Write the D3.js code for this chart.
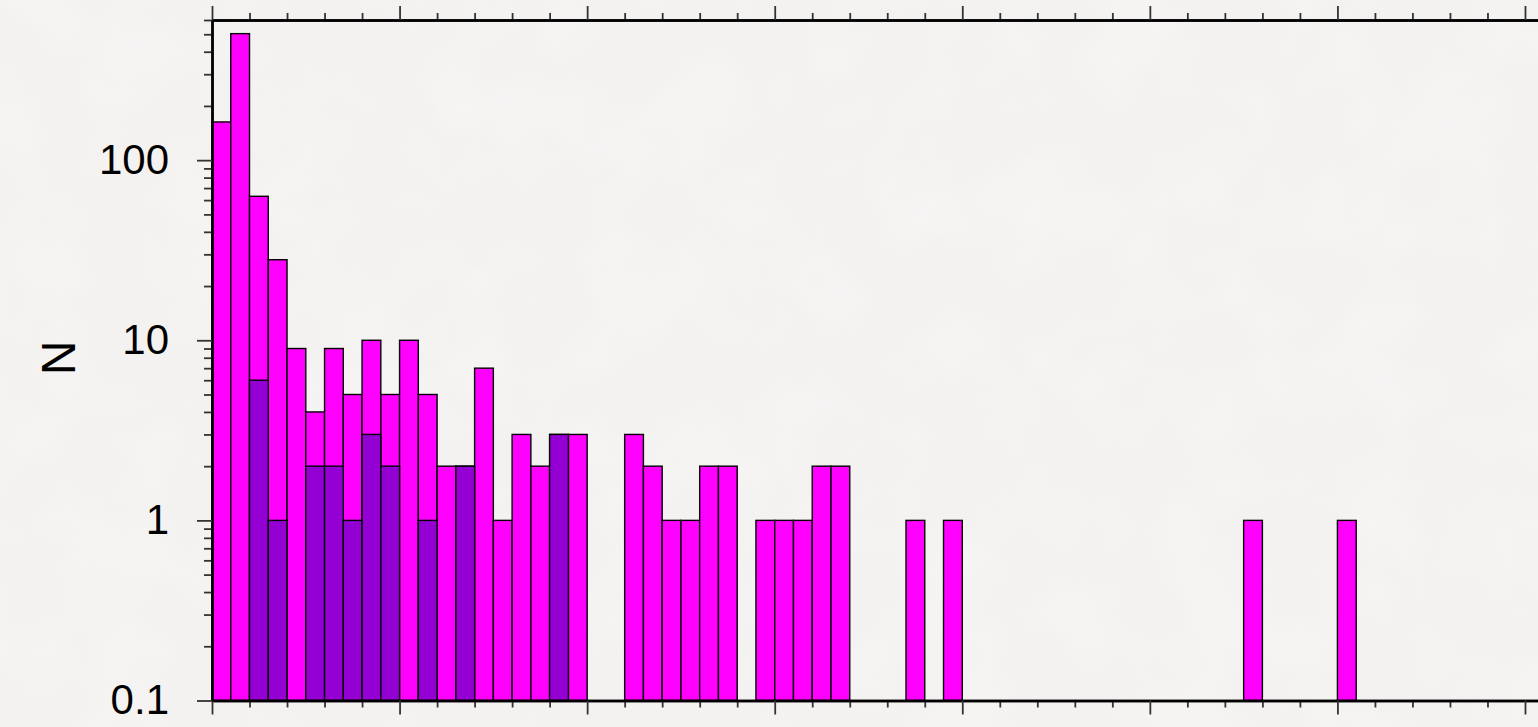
<!DOCTYPE html>
<html>
<head>
<meta charset="utf-8">
<script src="https://cdn.jsdelivr.net/npm/d3@7"></script>
<style>
  html, body { margin: 0; padding: 0; background: #f5f3f2; }
  svg { display: block; }
  text { font-family: "Liberation Sans", Arial, Helvetica, sans-serif; }
</style>
</head>
<body>
<svg id="chart" width="1538" height="727"></svg>
<script>
// Histogram counts per bin (bin index = position along the x axis)
const binIndex = [
  0, 1, 2, 3, 4, 5, 6, 7, 8, 9,
  10, 11, 12, 13, 14, 15, 16, 17, 18, 19,
  20, 21, 22, 23, 24, 25, 26, 27, 28, 29,
  30, 31, 32, 33, 34, 35, 36, 37, 38, 39,
  40, 41, 42, 43, 44, 45, 46, 47, 48, 49,
  50, 51, 52, 53, 54, 55, 56, 57, 58, 59, 60
];
// All objects
const totalCounts = [
  163, 504, 63, 28, 9, 4, 9, 5, 10, 5,
  10, 5, 2, 2, 7, 1, 3, 2, 3, 3,
  0, 0, 3, 2, 1, 1, 2, 2, 0, 1,
  1, 1, 2, 2, 0, 0, 0, 1, 0, 1,
  0, 0, 0, 0, 0, 0, 0, 0, 0, 0,
  0, 0, 0, 0, 0, 1, 0, 0, 0, 0, 1
];
// Sub-sample drawn on top
const subsetCounts = [
  0, 0, 6, 1, 0, 2, 2, 1, 3, 2,
  0, 1, 0, 2, 0, 0, 0, 0, 3, 0
];
// Axis ticks
const yMajorTicks = [0.1, 1, 10, 100];
const yTickLabels = ["0.1", "1", "10", "100"];
const yMinorTicks = [0.2,0.3,0.4,0.5,0.6,0.7,0.8,0.9,2,3,4,5,6,7,8,9,20,30,40,50,60,70,80,90,200,300,400,500,600];
const xMajorTicks = [0, 10, 20, 30, 40, 50, 60, 70, 80];
const xMinorTicks = [2,4,6,8,12,14,16,18,22,24,26,28,32,34,36,38,42,44,46,48,52,54,56,58,62,64,66,68,72,74,76,78];

const svg = d3.select("#chart");
const plotLeft = 212, plotTop = 20, plotBottom = 700.5;
const binPx = 18.757;

const x = d3.scaleLinear().domain([0, 80]).range([plotLeft, plotLeft + 80 * binPx]);
const y = d3.scaleLog().domain([0.1, 600]).range([plotBottom, plotTop]);

// subtle mottled paper background
const defs = svg.append("defs");
const f = defs.append("filter").attr("id", "mottle").attr("x", 0).attr("y", 0).attr("width", "100%").attr("height", "100%");
f.append("feTurbulence").attr("type", "fractalNoise").attr("baseFrequency", 0.012).attr("numOctaves", 3).attr("seed", 7);
f.append("feColorMatrix").attr("type", "matrix")
  .attr("values", "0 0 0 0 1  0 0 0 0 1  0 0 0 0 1  0 0 0 0.9 -0.38");
svg.append("rect").attr("width", 1538).attr("height", 727).attr("fill", "#f4f2f1");
svg.append("rect").attr("width", 1538).attr("height", 727).attr("filter", "url(#mottle)").attr("opacity", 0.5);

const bars = svg.append("g");
const drawBars = (counts, color) => {
  bars.append("g").selectAll("rect")
    .data(counts.map((c, i) => ({ i: binIndex[i], c })).filter(d => d.c > 0))
    .join("rect")
    .attr("x", d => x(d.i))
    .attr("width", d => x(d.i + 1) - x(d.i))
    .attr("y", d => y(d.c))
    .attr("height", d => y(0.1) - y(d.c))
    .attr("fill", color)
    .attr("stroke", "#000")
    .attr("stroke-width", 1.4);
};
drawBars(totalCounts, "#ff00ff");
drawBars(subsetCounts, "#9400d3");

const styleAxis = g => {
  g.select(".domain").attr("stroke", "#000").attr("stroke-width", 2.4);
  g.selectAll(".tick line").attr("stroke", "#333").attr("stroke-width", 1.8);
};

// x axes (bottom and top), majors and minors
[[d3.axisBottom, plotBottom], [d3.axisTop, plotTop]].forEach(([ax, yy]) => {
  svg.append("g").attr("transform", `translate(0,${yy})`)
    .call(ax(x).tickValues(xMinorTicks).tickSize(7).tickSizeOuter(0).tickFormat(""))
    .call(styleAxis);
  svg.append("g").attr("transform", `translate(0,${yy})`)
    .call(ax(x).tickValues(xMajorTicks).tickSize(14).tickSizeOuter(0).tickFormat(""))
    .call(styleAxis);
});

// y axis
svg.append("g").attr("transform", `translate(${plotLeft},0)`)
  .call(d3.axisLeft(y).tickValues(yMinorTicks).tickSize(8).tickSizeOuter(0).tickFormat(""))
  .call(styleAxis);
const yAx = svg.append("g").attr("transform", `translate(${plotLeft},0)`)
  .call(d3.axisLeft(y).tickValues(yMajorTicks).tickSize(15).tickSizeOuter(0).tickPadding(28)
    .tickFormat((d, i) => yTickLabels[i]))
  .call(styleAxis);
yAx.selectAll(".tick text").attr("font-size", 42).attr("fill", "#000")
  .attr("font-family", "'Liberation Sans', Arial, sans-serif");

// y title
svg.append("text")
  .attr("transform", "translate(75,358) rotate(-90)")
  .attr("text-anchor", "middle")
  .attr("font-size", 48)
  .attr("fill", "#000")
  .text("N");
</script>
</body>
</html>
